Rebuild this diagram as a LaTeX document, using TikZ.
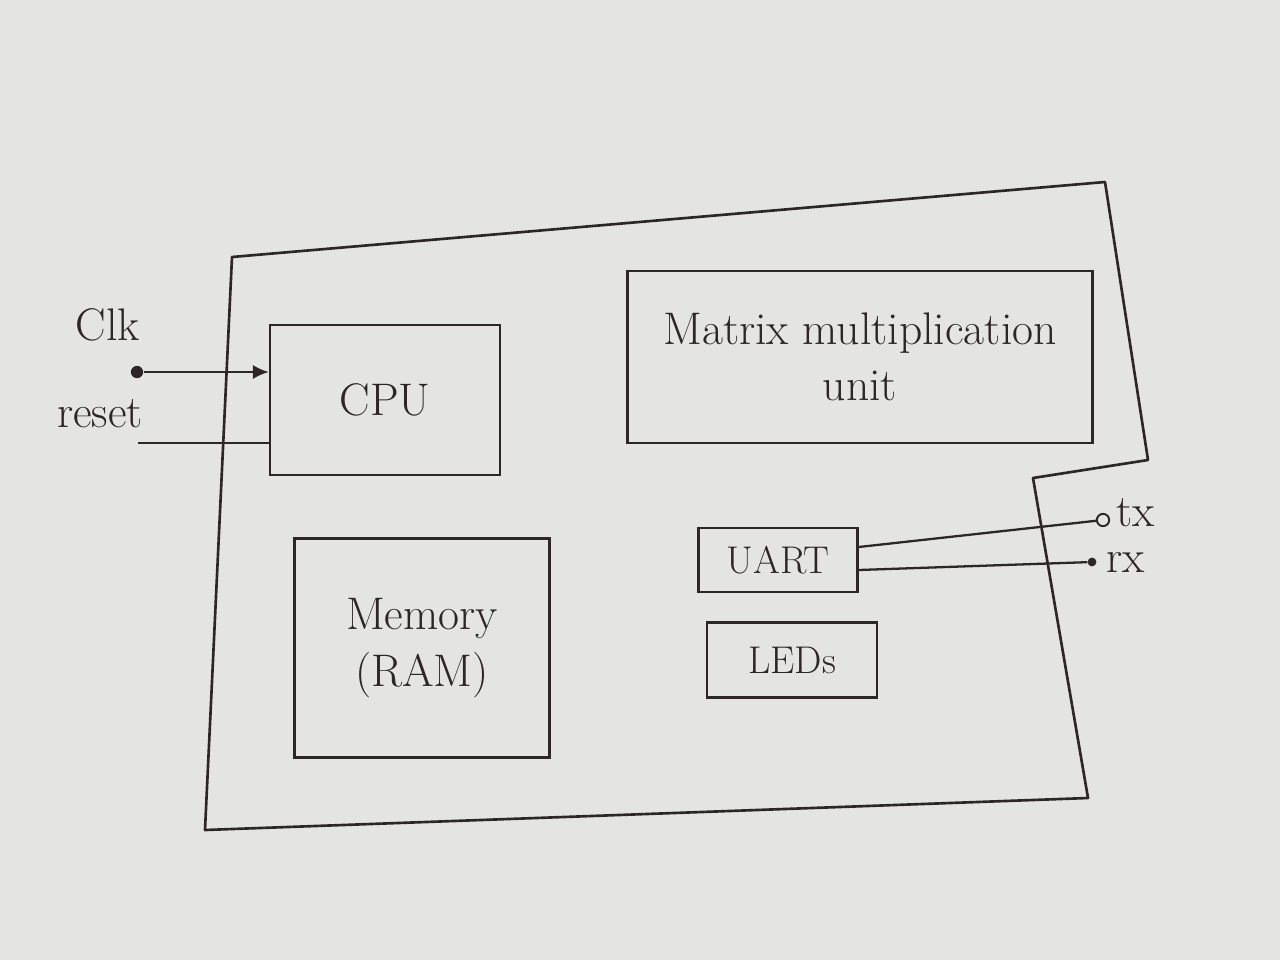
\documentclass[tikz,border=0pt]{standalone}
\usetikzlibrary{arrows.meta, positioning, calc}
\definecolor{paper}{RGB}{228,228,226}
\definecolor{ink}{RGB}{45,38,40}
\tikzset{
  blk/.style = {rectangle, draw=ink, line width=1.4pt, align=center, text=ink, inner sep=4pt},
  wire/.style = {draw=ink, line width=1.3pt},
  pinfull/.style = {circle, fill=ink, inner sep=0pt, minimum size=7pt},
  pinopen/.style = {circle, draw=ink, line width=1.1pt, fill=paper, inner sep=0pt, minimum size=7pt},
  lbl/.style = {text=ink, font=\fontsize{26}{32}\selectfont},
  arr/.style = {-{Latex[length=9pt, width=8pt]}}
}

\begin{document}
\begin{tikzpicture}[x=0.02cm, y=-0.02cm]
\fill[paper] (0,0) rectangle (1280,960);
\useasboundingbox (0,0) rectangle (1280,960);

% Board outline
\coordinate (b1) at (232,257);
\coordinate (b2) at (1105,182);
\coordinate (b3) at (1148,460);
\coordinate (b4) at (1033,478);
\coordinate (b5) at (1088,798);
\coordinate (b6) at (205,830);
\draw[wire, line width=1.5pt, line join=round] (b1) -- (b2) -- (b3) -- (b4) -- (b5) -- (b6) -- cycle;

% Blocks
\node[blk, lbl, minimum width=4.6cm, minimum height=3cm] (cpu) at (385,400) {CPU};
\node[blk, lbl, minimum width=9.3cm, minimum height=3.44cm] (mmu) at (860,357) {Matrix multiplication\\unit};
\node[blk, lbl, minimum width=5.1cm, minimum height=4.38cm] (mem) at (422,648) {Memory\\(RAM)};
\node[blk, lbl, font=\fontsize{22}{26}\selectfont, minimum width=3.18cm, minimum height=1.28cm] (uart) at (778,560) {UART};
\node[blk, lbl, font=\fontsize{22}{26}\selectfont, minimum width=3.4cm, minimum height=1.5cm] (leds) at (792,660) {LEDs};

% Inputs
\node[pinfull] (clk) at (137,372) {};
\node[lbl] (clklbl) at (108,325) {Clk};
\coordinate (rst) at (138,443);
\node[lbl] (rstlbl) at (100,414) {reset};

% Outputs
\node[pinopen] (tx) at (1103,520) {};
\node[lbl, right=0pt of tx, yshift=4pt] (txlbl) {tx};
\node[pinfull, minimum size=5pt] (rx) at (1092,562) {};
\node[lbl, right=2pt of rx] (rxlbl) {rx};

% ----- WIRES -----
\draw[wire, arr] (clk) -- (clk -| cpu.west);
\draw[wire] (rst) -- (rst -| cpu.west);
\draw[wire] ($(uart.east)+(0,-13)$) -- (tx);
\draw[wire] ($(uart.east)+(0,10)$) -- (rx);

\end{tikzpicture}
\end{document}
